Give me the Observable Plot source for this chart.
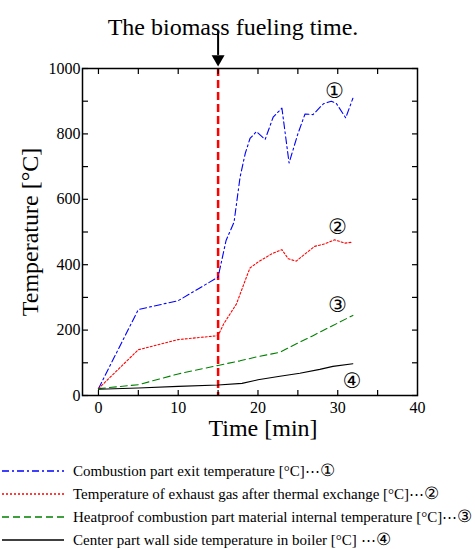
<!DOCTYPE html>
<html><head><meta charset="utf-8">
<script src="https://cdn.jsdelivr.net/npm/d3@7"></script>
<script src="https://cdn.jsdelivr.net/npm/@observablehq/plot@0.6"></script>
<style>
body{margin:0;background:#fff;font-family:"Liberation Serif","Times New Roman",serif;}
#legend .row{display:flex;align-items:center;height:23px;font-size:15px;white-space:nowrap;overflow:hidden;width:475px;}
#legend svg{flex:none;margin-right:7px;}
#legend .c{font-size:17px;}
</style></head><body><div id="chart"></div><div id="legend"></div>
<script>
// Series 1: Combustion part exit temperature
const time1 = [0,5,10,15,16,17,17.75,18.4,19,19.8,20.9,21.9,23,23.9,25,25.9,26.9,28.2,29.2,29.8,31,31.9];
const temp1 = [21,263,290,362,474,530,667,740,786,807,783,851,879,711,800,861,859,892,900,894,849,909];
// Series 2: Exhaust gas after thermal exchange
const time2 = [0,5,10,15,15.7,17.3,18.6,19,20,21.7,23,23.8,24.8,25.9,27.1,28.4,29.6,30.9,31.9];
const temp2 = [21,140,171,183,219,280,365,390,408,433,446,418,411,433,456,464,476,466,469];
// Series 3: Heatproof combustion part material internal
const time3 = [0,5,10,15,17.75,20,22.75,24.4,26.9,29.4,31.9];
const temp3 = [21,33,66,92,106,119,132,153,183,214,245];
// Series 4: Center part wall side in boiler
const time4 = [0,5,10,15,18,20,22.75,25.25,27.75,29.4,31.9];
const temp4 = [19,23,28,32,37,48,59,68,80,89,97];

const seriesNames = [
  "Combustion part exit temperature [°C]⋯",
  "Temperature of exhaust gas after thermal exchange [°C]⋯",
  "Heatproof combustion part material internal temperature [°C]⋯",
  "Center part wall side temperature in boiler [°C] ⋯"
];
const seriesColors = ["#0000ff","#ff0000","#008000","#000000"];
const seriesDash = ["7,3,2,3","2,2","7,4","none"];

const markerLabels = ["①","②","③","④"];
const markerTimes = [29.6,30,30,31.8];
const markerTemps = [930,515,275,43];

const xTickValues = [0,5,10,15,20,25,30,35];
const xLabelValues = [0,10,20,30,40];
const yTickValues = [0,100,200,300,400,500,600,700,800,900,1000];
const yLabelValues = [0,200,400,600,800,1000];

const titleText = "The biomass fueling time.";
const xTitle = "Time [min]";
const yTitle = "Temperature [°C]";
const fuelTime = 15;
const arrowTop = 1114, arrowBase = 1040, arrowHead = 1029;

const times = [time1,time2,time3,time4];
const temps = [temp1,temp2,temp3,temp4];
const series = times.map((ts,k)=>ts.map((t,i)=>({t, v: temps[k][i]})));
const markers = markerLabels.map((s,i)=>({s, t: markerTimes[i], v: markerTemps[i]}));

const lineMarks = series.map((d,k)=>Plot.line(d,{x:"t",y:"v",stroke:seriesColors[k],strokeWidth:1.1,strokeDasharray:seriesDash[k]}));

const chart = Plot.plot({
  width: 475, height: 459,
  marginLeft: 82, marginRight: 58, marginTop: 68, marginBottom: 64,
  style: {fontFamily: '"Liberation Serif","Times New Roman",serif', background: "#fff", color: "#000", overflow: "visible"},
  x: {domain: [-2, 40]},
  y: {domain: [0, 1000]},
  marks: [
    Plot.ruleX([fuelTime], {x: d=>d, stroke: "#ff0000", strokeWidth: 2.5, strokeDasharray: "8,4"}),
    ...lineMarks,
    Plot.frame({stroke: "#000", strokeWidth: 1.5}),
    Plot.axisX({anchor: "bottom", ticks: xTickValues, tickSize: -5, tickFormat: () => "", label: null, strokeWidth: 1.2}),
    Plot.axisX({anchor: "top", ticks: xTickValues, tickSize: -5, tickFormat: () => "", label: null, strokeWidth: 1.2}),
    Plot.axisY({anchor: "left", ticks: yTickValues, tickSize: -6, tickFormat: () => "", label: null, strokeWidth: 1.2}),
    Plot.axisY({anchor: "right", ticks: yTickValues, tickSize: -6, tickFormat: () => "", label: null, strokeWidth: 1.2}),
    Plot.axisX({anchor: "bottom", ticks: xLabelValues, tickSize: 0, tickPadding: 6, fontSize: 16, label: null, tickFormat: d3.format("d")}),
    Plot.axisY({anchor: "left", ticks: yLabelValues, tickSize: 0, tickPadding: 2, fontSize: 16, label: null, tickFormat: d3.format("d")}),
    Plot.text([xTitle], {text: d=>d, frameAnchor: "bottom", dx: 13, dy: 40, fontSize: 24, textAnchor: "middle"}),
    Plot.text([yTitle], {text: d=>d, frameAnchor: "left", rotate: -90, dx: -52, fontSize: 24, textAnchor: "middle"}),
    Plot.text([titleText], {text: d=>d, frameAnchor: "top", dx: -17, dy: -51, fontSize: 24, textAnchor: "middle"}),
    Plot.ruleX([fuelTime], {x: d=>d, y1: arrowTop, y2: arrowBase, stroke: "#000", strokeWidth: 2}),
    Plot.dot([fuelTime], {x: d=>d, y: arrowHead, symbol: "triangle", rotate: 180, r: 4.8, fill: "#000", stroke: null}),
    Plot.text(markers, {x: "t", y: "v", text: "s", fontSize: 21, fontFamily: "DejaVu Sans"})
  ]
});
document.getElementById("chart").appendChild(chart);

const legend = document.getElementById("legend");
seriesNames.forEach((name,k)=>{
  const row = document.createElement("div");
  row.className = "row";
  row.innerHTML = `<svg width="66" height="10"><line x1="2" x2="64" y1="5" y2="5" stroke="${seriesColors[k]}" stroke-width="1.3" stroke-dasharray="${seriesDash[k]}"/></svg><span>${name}<span class="c">${markerLabels[k]}</span></span>`;
  legend.appendChild(row);
});
</script></body></html>
